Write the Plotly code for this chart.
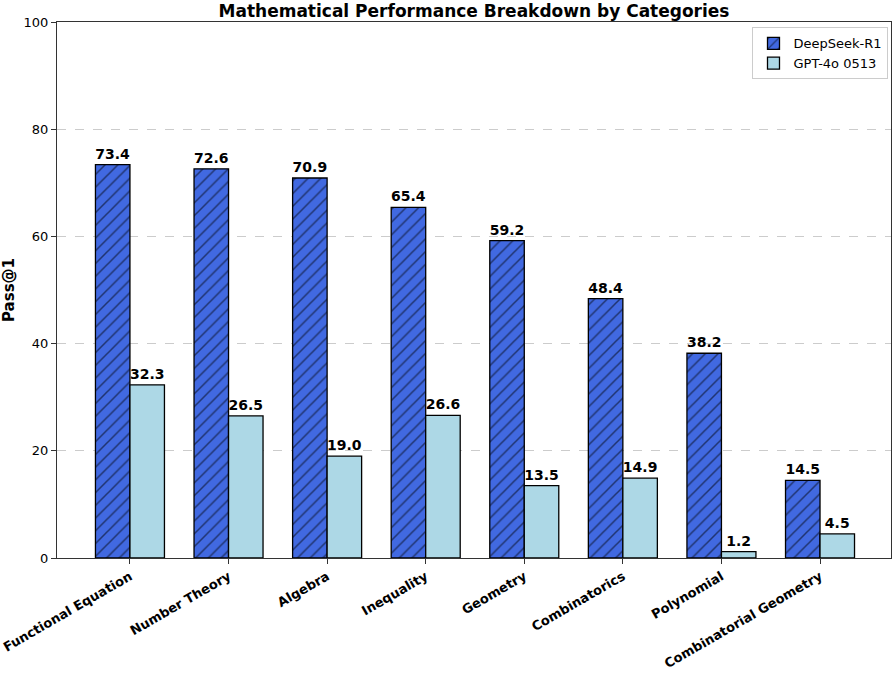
import plotly.graph_objects as go

categories = ["Functional Equation", "Number Theory", "Algebra", "Inequality",
              "Geometry", "Combinatorics", "Polynomial", "Combinatorial Geometry"]
deepseek_r1 = [73.4, 72.6, 70.9, 65.4, 59.2, 48.4, 38.2, 14.5]
gpt4o = [32.3, 26.5, 19.0, 26.6, 13.5, 14.9, 1.2, 4.5]
series_names = ["DeepSeek-R1", "GPT-4o 0513"]
y_ticks = [0, 20, 40, 60, 80, 100]

FONT = "DejaVu Sans"

fig = go.Figure()
fig.add_trace(go.Bar(
    name=series_names[0], x=categories, y=deepseek_r1,
    marker=dict(color="#4169E1", line=dict(color="black", width=1.3),
                pattern=dict(shape="/", fgcolor="black", size=9, solidity=0.17)),
    texttemplate="%{y:.1f}", textposition="outside", constraintext="none",
    textfont=dict(family=FONT, size=14, color="black", weight="bold"),
    cliponaxis=False,
))
fig.add_trace(go.Bar(
    name=series_names[1], x=categories, y=gpt4o,
    marker=dict(color="#ADD8E6", line=dict(color="black", width=1.3)),
    texttemplate="%{y:.1f}", textposition="outside", constraintext="none",
    textfont=dict(family=FONT, size=14, color="black", weight="bold"),
    cliponaxis=False,
))

fig.update_layout(
    width=894, height=676,
    barmode="group", bargap=0.3, bargroupgap=0,
    plot_bgcolor="white", paper_bgcolor="white",
    font=dict(family=FONT, size=13, color="black"),
    margin=dict(l=57, r=3, t=22, b=118),
    title=dict(text="<b>Mathematical Performance Breakdown by Categories</b>",
               xref="paper", x=0.5, xanchor="center",
               yref="container", y=1 - 11 / 676, yanchor="middle",
               font=dict(family=FONT, size=17, color="black")),
    legend=dict(x=0.997, y=0.99, xanchor="right", yanchor="top",
                bgcolor="rgba(255,255,255,0.9)", bordercolor="#cccccc", borderwidth=1,
                font=dict(family=FONT, size=13)),
    showlegend=True,
)
fig.update_xaxes(
    range=[-0.74, 7.72], tickangle=-30, automargin=False,
    tickfont=dict(family=FONT, size=13, color="black", weight="bold"),
    showline=True, linecolor="#333333", linewidth=1.2, mirror=True,
    ticks="outside", ticklen=5, tickcolor="#333333", showgrid=False,
)
fig.update_yaxes(
    range=[0, 100], tickvals=y_ticks, automargin=False,
    title=dict(text="<b>Pass@1</b>", font=dict(family=FONT, size=15), standoff=8),
    showline=True, linecolor="#333333", linewidth=1.2, mirror=True,
    ticks="outside", ticklen=5, tickcolor="#333333",
    showgrid=True, gridcolor="#cccccc", griddash="dash", gridwidth=1,
    zeroline=False, tickfont=dict(family=FONT, size=13),
)

fig.write_html("out.html", config={"displayModeBar": False},
               post_script="document.body.style.margin='0';document.body.style.overflow='hidden';")
